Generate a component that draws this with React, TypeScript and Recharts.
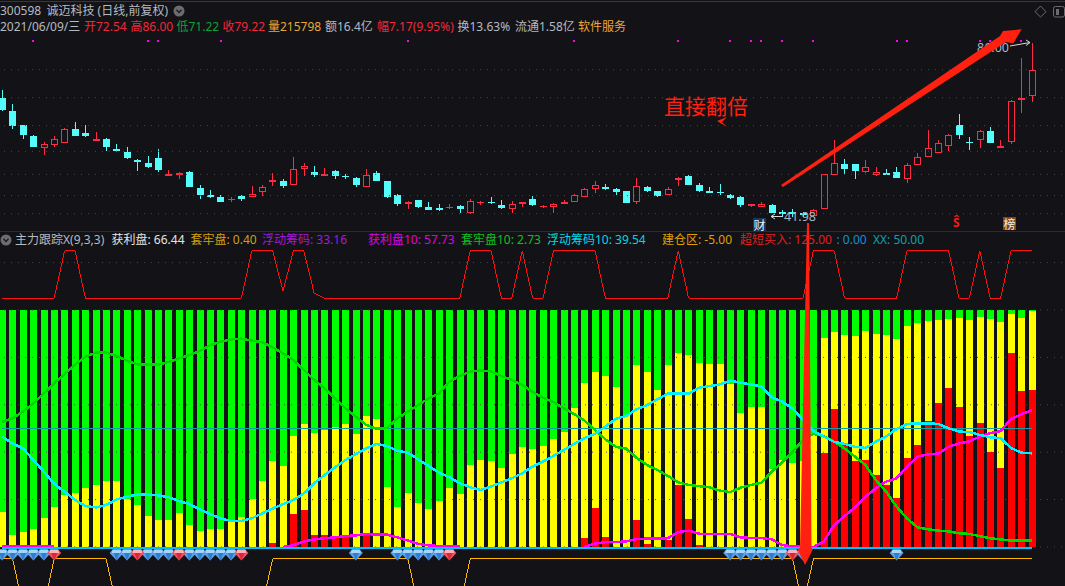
import React from "react";
import { ComposedChart, Bar, Line, Scatter, XAxis, YAxis, ReferenceLine } from "recharts";

// daily candles, oldest first
const opens = [
  72.04, 68.74, 65.19, 62.4, 59.35, 60.11, 60.79, 64.18, 63.16, 61.55, 61.64, 59.18, 58.42, 56.31, 55.63, 56.9, 52.5, 52.67, 53.35, 49.29,
  47.51, 47.0, 46.16, 47.17, 47.09, 48.19, 50.72, 50.98, 49.96, 54.02, 53.26, 52.5, 53.52, 52.42, 51.82, 49.45, 53.01, 50.98, 47.51, 45.14,
  46.16, 44.46, 44.13, 44.38, 44.63, 43.03, 45.39, 45.82, 44.89, 44.04, 45.14, 46.41, 44.55, 44.55, 45.14, 45.65, 46.92, 49.12, 49.54, 48.95,
  48.44, 45.82, 49.45, 48.44, 47.42, 51.49, 52.33, 49.96, 48.52, 48.27, 47.42, 47.0, 44.89, 44.38, 44.89, 43.19, 43.19, 42.86, 42.18, 43.87,
  52.5, 55.38, 55.38, 53.43, 52.67, 53.01, 53.35, 51.65, 55.04, 57.07, 58.08, 60.03, 65.19, 60.96, 61.38, 63.67, 59.35, 61.05, 71.54, 72.54,
];
const highs = [
  74.16, 70.52, 65.27, 62.65, 60.88, 62.48, 64.51, 66.04, 65.19, 63.5, 61.98, 60.45, 59.69, 56.73, 57.41, 59.18, 53.85, 53.26, 53.6, 49.96,
  48.78, 47.42, 46.92, 47.42, 49.79, 50.05, 53.01, 51.57, 57.07, 55.55, 54.87, 54.36, 53.85, 52.92, 52.16, 54.11, 53.52, 51.06, 47.76, 45.9,
  46.16, 45.73, 45.14, 45.14, 44.89, 46.41, 45.99, 47.0, 46.16, 45.99, 45.82, 47.17, 44.89, 45.39, 46.16, 47.85, 49.37, 50.98, 50.22, 49.2,
  48.52, 51.82, 49.71, 48.52, 49.45, 52.16, 52.58, 50.55, 49.54, 50.3, 47.68, 47.17, 45.14, 45.82, 45.14, 43.7, 43.87, 43.28, 43.87, 52.75,
  61.47, 56.65, 55.38, 56.39, 54.53, 54.11, 54.53, 55.55, 58.25, 63.92, 61.47, 62.91, 68.07, 62.31, 64.01, 64.77, 61.47, 71.62, 82.28, 86.0,
];
const lows = [
  68.91, 64.26, 61.72, 59.78, 57.66, 59.78, 60.79, 62.57, 62.23, 61.55, 58.68, 58.42, 56.73, 53.6, 54.36, 53.35, 52.5, 51.57, 49.62, 46.49,
  46.83, 45.82, 45.73, 46.07, 47.09, 47.34, 49.88, 49.37, 49.96, 52.42, 52.16, 52.5, 51.57, 51.65, 49.45, 49.45, 51.15, 46.83, 44.8, 43.96,
  44.29, 43.79, 43.53, 43.87, 43.03, 42.77, 45.06, 45.31, 44.04, 42.94, 44.46, 44.8, 44.29, 43.03, 45.14, 45.65, 46.92, 48.1, 48.69, 47.59,
  45.56, 45.31, 48.36, 47.09, 47.42, 49.88, 50.13, 48.36, 48.1, 47.42, 46.58, 44.55, 44.46, 44.38, 43.03, 42.18, 41.98, 42.01, 42.01, 43.87,
  52.5, 52.84, 51.65, 53.01, 52.42, 52.84, 51.91, 50.64, 55.04, 57.07, 58.08, 58.68, 61.81, 58.93, 59.52, 60.79, 59.35, 60.54, 68.41, 71.22,
];
const closes = [
  69.08, 65.11, 62.82, 59.78, 60.37, 61.64, 64.18, 62.57, 62.48, 61.64, 59.78, 58.76, 56.98, 56.05, 54.7, 53.85, 52.75, 53.01, 49.62, 47.59,
  47.09, 45.82, 46.58, 46.58, 47.85, 49.62, 51.4, 49.88, 54.19, 54.95, 52.67, 52.75, 52.42, 52.25, 49.96, 52.67, 51.15, 47.09, 45.31, 45.82,
  44.55, 43.79, 43.96, 44.55, 44.04, 45.9, 45.82, 45.65, 44.29, 45.14, 45.65, 45.06, 44.8, 45.31, 45.82, 47.42, 48.95, 49.96, 49.12, 48.36,
  45.56, 49.71, 48.61, 47.34, 48.95, 51.74, 50.13, 48.61, 48.36, 48.1, 46.83, 45.06, 45.14, 45.14, 43.03, 43.03, 43.03, 42.69, 43.79, 52.75,
  55.55, 54.11, 53.6, 54.53, 53.26, 52.84, 51.91, 55.04, 57.24, 59.35, 60.62, 62.82, 62.82, 60.79, 63.67, 60.79, 59.86, 71.45, 72.21, 79.22,
];
const priceGrid = [79.32, 72.21, 65.11, 58.59, 52.75, 47.34, 42.77];
const signalDays = [3, 14, 15, 21, 39, 55, 65, 70, 72, 73, 75, 78, 86, 87, 94, 95, 98];

// chip distribution, stacked to 100
const profitChips = [
  0, 0, 0, 0, 0, 0, 0, 0, 0, 0, 0, 0, 0, 0, 0, 0, 0, 0, 0, 0,
  0, 0, 0, 0, 0, 0, 1.7, 0, 13.9, 15.6, 5.1, 5.1, 4.6, 5.1, 0, 5.1, 0, 0, 0, 0,
  0, 0, 0, 0, 0, 0, 0, 0, 0, 0, 0, 0, 0, 0, 0, 0, 3.8, 16.5, 4.2, 0,
  0, 11.4, 1.3, 0, 3.0, 26.2, 11.8, 0.8, 0, 0, 0, 0, 0, 0, 0, 0, 0, 0, 0, 39.7,
  58.2, 43.0, 36.3, 36.7, 30.4, 26.2, 20.7, 37.6, 43.0, 53.2, 60.8, 67.1, 59.1, 46.8, 52.3, 40.1, 33.3, 81.9, 65.8, 66.44,
];
const floatChips = [
  14.8, 5.1, 6.3, 7.6, 12.2, 16.9, 21.9, 22.8, 24.9, 26.2, 27.8, 27.8, 20.3, 17.7, 13.1, 11.4, 11.4, 14.3, 9.3, 6.8,
  7.6, 7.6, 11.0, 12.7, 20.3, 27.8, 34.6, 34.2, 32.9, 36.3, 43.0, 44.3, 46.0, 46.8, 47.7, 50.2, 54.0, 25.3, 16.9, 22.8,
  18.6, 16.0, 19.4, 24.9, 22.4, 34.6, 36.7, 36.3, 33.3, 39.2, 42.2, 41.4, 42.6, 45.6, 48.5, 58.7, 65.4, 57.3, 68.0, 67.5,
  55.7, 65.4, 72.5, 66.2, 73.8, 55.7, 69.2, 76.8, 77.2, 77.2, 68.8, 56.5, 59.1, 59.1, 32.9, 36.7, 35.4, 36.3, 47.3, 48.5,
  32.5, 46.5, 52.7, 54.4, 59.5, 63.3, 67.1, 55.6, 51.5, 42.2, 35.0, 29.1, 37.5, 49.0, 44.7, 56.1, 61.6, 16.4, 30.8, 33.16,
];
const trappedChips = [
  85.2, 94.9, 93.7, 92.4, 87.8, 83.1, 78.1, 77.2, 75.1, 73.8, 72.2, 72.2, 79.7, 82.3, 86.9, 88.6, 88.6, 85.7, 90.7, 93.2,
  92.4, 92.4, 89.0, 87.3, 79.7, 72.2, 63.7, 65.8, 53.2, 48.1, 51.9, 50.6, 49.4, 48.1, 52.3, 44.7, 46.0, 74.7, 83.1, 77.2,
  81.4, 84.0, 80.6, 75.1, 77.6, 65.4, 63.3, 63.7, 66.7, 60.8, 57.8, 58.6, 57.4, 54.4, 51.5, 41.3, 30.8, 26.2, 27.8, 32.5,
  44.3, 23.2, 26.2, 33.8, 23.2, 18.1, 19.0, 22.4, 22.8, 22.8, 31.2, 43.5, 40.9, 40.9, 67.1, 63.3, 64.6, 63.7, 52.7, 11.8,
  9.3, 10.5, 11.0, 8.9, 10.1, 10.5, 12.2, 6.8, 5.5, 4.6, 4.2, 3.8, 3.4, 4.2, 3.0, 3.8, 5.1, 1.7, 3.4, 0.4,
];

// moving lines of the same indicator
const profit10 = [
  0.3, 0.3, 0.3, 0.3, 0.3, 0.3, null, null, null, null, null, null, null, null, null, null, null, null, null, null,
  null, null, null, null, null, null, null, 0, 0.8, 2.3, 3.2, 3.7, 4.1, 4.6, 4.9, 5.5, 5.2, 5.2, 4.1, 2.7,
  1.3, 0.7, 0.4, 0.3, 0.3, null, null, null, null, null, null, null, null, null, null, null, 0, 1.5, 2.0, 2.1,
  2.3, 3.4, 3.5, 3.5, 3.7, 6.3, 6.9, 5.6, 5.5, 5.5, 5.5, 4.1, 3.8, 3.8, 3.2, 0.8, 0.3, 0, 0, 2.3,
  9.3, 13.1, 16.7, 21.2, 24.8, 27.6, 29.0, 33.9, 38.1, 39.1, 39.4, 42.3, 43.7, 44.6, 46.6, 48.0, 48.9, 54.0, 56.0, 57.73,
];
const trapped10 = [
  52.9, 54.3, 57.1, 60.6, 64.8, 69.1, 73.0, 76.9, 80.3, 82.0, 82.0, 80.6, 78.6, 77.1, 76.9, 76.9, 78.1, 79.6, 81.0, 82.7,
  85.2, 86.6, 87.6, 87.9, 87.1, 86.4, 84.2, 81.7, 78.9, 74.7, 70.5, 66.9, 62.7, 58.5, 55.0, 51.5, 49.9, 50.2, 54.3, 57.1,
  59.9, 62.7, 64.8, 69.8, 72.2, 74.0, 74.5, 74.1, 72.2, 70.5, 68.4, 65.5, 63.0, 61.2, 58.5, 56.1, 53.3, 49.4, 45.4, 42.3,
  41.5, 37.6, 34.6, 32.5, 30.0, 27.3, 26.2, 25.7, 25.2, 23.8, 23.2, 25.0, 26.2, 27.1, 31.8, 35.7, 40.2, 45.1, 47.7, 46.8,
  44.4, 41.6, 38.1, 34.6, 28.3, 23.3, 17.0, 12.1, 8.3, 7.5, 6.9, 6.6, 5.8, 5.5, 4.6, 3.7, 3.2, 2.7, 2.7, 2.73,
];
const float10 = [
  46.6, 43.7, 41.6, 36.7, 31.8, 26.6, 23.3, 19.8, 17.3, 16.7, 17.7, 20.1, 21.2, 22.2, 22.2, 21.8, 21.0, 19.5, 18.1, 15.9,
  13.9, 12.0, 11.0, 11.0, 12.1, 14.2, 16.2, 18.1, 19.8, 22.6, 26.9, 30.4, 33.6, 36.7, 39.2, 41.6, 43.5, 42.6, 40.6, 39.8,
  37.0, 34.2, 31.4, 29.4, 26.9, 25.2, 24.1, 25.5, 27.3, 29.0, 31.1, 33.9, 36.0, 38.4, 40.9, 43.5, 45.9, 47.7, 50.8, 54.1,
  55.3, 58.1, 59.9, 62.3, 64.7, 64.7, 64.7, 67.2, 67.9, 68.6, 70.2, 69.3, 68.6, 67.7, 63.2, 61.3, 58.5, 53.6, 48.9, 46.6,
  44.4, 43.5, 42.3, 41.8, 44.4, 46.6, 49.8, 51.9, 52.2, 52.2, 51.9, 50.1, 48.7, 48.5, 47.3, 46.3, 45.9, 41.8, 39.8, 39.54,
];
const shortBuy = [
  105, 105, 105, 105, 105, 105, 125, 125, 105, 105, 105, 105, 105, 105, 105, 105, 105, 105, 105, 105,
  105, 105, 105, 105, 125, 125, 125, 108, 125, 125, 107, 105, 105, 105, 105, 105, 105, 105, 105, 105,
  105, 105, 105, 105, 105, 125, 125, 125, 105, 105, 125, 105, 105, 125, 125, 125, 125, 125, 105, 105,
  105, 105, 105, 105, 105, 125, 105, 105, 105, 105, 105, 105, 105, 105, 105, 105, 105, 105, 125, 125,
  125, 105, 105, 105, 105, 105, 105, 125, 125, 125, 125, 125, 105, 105, 125, 105, 105, 125, 125, 125,
];
const buildZone = [
  -5, -5, -25, -25, -25, -5, -5, -5, -5, -5, -5, -25, -25, -25, -25, -25, -25, -25, -25, -25,
  -25, -25, -25, -25, -25, -25, -5, -5, -5, -5, -5, -5, -5, -5, -5, -5, -5, -5, -5, -5,
  -25, -25, -25, -25, -25, -5, -5, -5, -5, -5, -5, -5, -5, -5, -5, -5, -5, -5, -5, -5,
  -5, -5, -5, -5, -5, -5, -5, -5, -5, -5, -5, -5, -5, -5, -5, -5, -5, -25, -5, -5,
  -5, -5, -5, -5, -5, -5, -5, -5, -5, -5, -5, -5, -5, -5, -5, -5, -5, -5, -5, -5,
];
const blueGemDays = [0, 1, 2, 3, 4, 11, 12, 14, 15, 16, 18, 19, 20, 21, 22, 34, 38, 39, 40, 41, 42, 70, 71, 72, 73, 74, 75, 77, 86];
const redGemDays = [5, 13, 17, 23, 43, 76];
const chipGrid = [120, 100, 80, 60, 40, 20, 0];

const XX_LEVEL = 50;
const ZERO_LEVEL = -0.4;
const GEM_LEVEL = -3.4;
const SIGNAL_PRICE = 86.6;

const BG = "#131216";
const SLOT = 10.4;
const SLOTS = 103; // three empty days after the last bar
const RED = "#ff2a44";
const CYAN = "#54fcfc";

const table = Array.from({ length: SLOTS }, (_, i) => {
  if (i >= opens.length) return { day: i };
  return {
    day: i,
    open: opens[i],
    high: highs[i],
    low: lows[i],
    close: closes[i],
    signal: signalDays.includes(i) ? SIGNAL_PRICE : null,
    profit: profitChips[i],
    float: floatChips[i],
    trapped: trappedChips[i],
    profit10: profit10[i],
    trapped10: trapped10[i],
    float10: float10[i],
    shortBuy: shortBuy[i],
    buildZone: buildZone[i],
    xx: XX_LEVEL,
    zero: ZERO_LEVEL,
    blueGem: blueGemDays.includes(i) ? GEM_LEVEL : null,
    redGem: redGemDays.includes(i) ? GEM_LEVEL : null,
  };
});

function Candle(props: any) {
  const { x, y, width, height, payload } = props;
  if (payload.high == null) return null;
  const k = height / (payload.high - payload.low);
  const yOf = (v: number) => y + (payload.high - v) * k;
  const up = payload.close >= payload.open;
  const color = up ? RED : CYAN;
  const left = Math.round(x);
  const mid = left + 3.5;
  const top = yOf(Math.max(payload.open, payload.close));
  const bottom = yOf(Math.min(payload.open, payload.close));
  const flat = bottom - top < 1.5;
  return (
    <g shapeRendering="crispEdges">
      <line x1={mid} x2={mid} y1={y} y2={y + height} stroke={color} strokeWidth={1} />
      {flat ? (
        <rect x={left} y={top} width={7} height={1.5} fill={color} />
      ) : (
        <rect
          x={up ? left + 0.5 : left}
          y={up ? top + 0.5 : top}
          width={up ? 6 : 7}
          height={up ? bottom - top - 1 : bottom - top}
          fill={up ? BG : color}
          stroke={up ? color : "none"}
          strokeWidth={1}
        />
      )}
    </g>
  );
}

function SignalDot(props: any) {
  const { cx, cy, payload } = props;
  if (payload?.signal == null) return null;
  return <rect x={Math.round(cx) - 1} y={Math.round(cy) - 1} width={2} height={2} fill="#ff00ff" shapeRendering="crispEdges" />;
}

function Gem(props: any) {
  const { cx, cy, top, face, dark, seen } = props;
  if (seen == null) return null;
  return (
    <g>
      <polygon points={`${cx - 7},${cy - 2} ${cx - 4},${cy - 5.5} ${cx + 4},${cy - 5.5} ${cx + 7},${cy - 2} ${cx},${cy + 5.5}`} fill={face} />
      <polygon points={`${cx - 4},${cy - 5.5} ${cx + 4},${cy - 5.5} ${cx + 5},${cy - 2} ${cx - 5},${cy - 2}`} fill={top} />
      <polygon points={`${cx - 3},${cy - 2} ${cx + 3},${cy - 2} ${cx},${cy + 5.5}`} fill={dark} />
    </g>
  );
}

const BlueGem = (props: any) => <Gem {...props} seen={props.payload?.blueGem} top="#a8d4f8" face="#5a9fe8" dark="#2f7fd0" />;
const RedGem = (props: any) => <Gem {...props} seen={props.payload?.redGem} top="#ffb0b8" face="#ee5060" dark="#d82838" />;

const Txt = ({ x, y, c, s = 12, b, children }: any) => (
  <span
    style={{
      position: "absolute",
      left: x,
      top: y,
      color: c,
      fontSize: s,
      fontWeight: b ? 700 : 400,
      lineHeight: "16px",
      whiteSpace: "nowrap",
      fontFamily: '"Noto Sans", "Noto Sans CJK SC", sans-serif',
    }}
  >
    {children}
  </span>
);

const Chevron = ({ x, y }: any) => (
  <svg style={{ position: "absolute", left: x, top: y }} width={12} height={12}>
    <circle cx={6} cy={6} r={5.5} fill="#6c6c70" />
    <path d="M3.5 4.8 L6 7.5 L8.5 4.8" fill="none" stroke="#1c1c1c" strokeWidth={1.3} />
  </svg>
);

export default function App() {
  return (
    <div style={{ position: "absolute", left: 0, top: 0, width: 1065, height: 586, overflow: "hidden", background: BG }}>
      <div style={{ position: "absolute", left: 0, top: 1, width: 1065, height: 1, background: "#38383c" }} />
      <div style={{ position: "absolute", left: 0, top: 231, width: 1065, height: 1, background: "#2c2c30" }} />

      {/* price panel */}
      <div style={{ position: "absolute", left: -3.1, top: 0 }}>
        <ComposedChart width={SLOT * SLOTS} height={228} data={table} margin={{ top: 0, right: 0, bottom: 0, left: 0 }} barSize={7}>
          <XAxis dataKey="day" hide />
          <YAxis hide domain={[39.13, 97]} allowDataOverflow />
          {priceGrid.map((p) => (
            <ReferenceLine key={p} y={p} stroke="#4a4a4e" strokeDasharray="1 6" />
          ))}
          <Bar dataKey={(d: any) => (d.high == null ? null : [d.low, d.high])} shape={<Candle />} isAnimationActive={false} />
          <Scatter dataKey="signal" shape={<SignalDot />} isAnimationActive={false} />
        </ComposedChart>
      </div>

      {/* chip panel */}
      <div style={{ position: "absolute", left: -3.1, top: 236 }}>
        <ComposedChart width={SLOT * SLOTS} height={382} data={table} margin={{ top: 0, right: 0, bottom: 0, left: 0 }} barSize={7}>
          <XAxis dataKey="day" hide />
          <YAxis hide domain={[-29.96, 131.22]} allowDataOverflow />
          {chipGrid.map((v) => (
            <ReferenceLine key={v} y={v} stroke="#4a4a4e" strokeDasharray="1 6" />
          ))}
          <Bar dataKey="profit" stackId="chips" fill="#ff0000" shapeRendering="crispEdges" isAnimationActive={false} />
          <Bar dataKey="float" stackId="chips" fill="#ffff00" shapeRendering="crispEdges" isAnimationActive={false} />
          <Bar dataKey="trapped" stackId="chips" fill="#00ff00" shapeRendering="crispEdges" isAnimationActive={false} />
          <Line dataKey="shortBuy" type="linear" stroke="#ff1010" strokeWidth={1} shapeRendering="crispEdges" dot={false} isAnimationActive={false} />
          <Line dataKey="buildZone" type="linear" stroke="#ffb800" strokeWidth={1} shapeRendering="crispEdges" dot={false} isAnimationActive={false} />
          <Line dataKey="xx" type="linear" stroke="#12a0a8" strokeWidth={1} shapeRendering="crispEdges" dot={false} isAnimationActive={false} />
          <Line dataKey="profit10" type="linear" stroke="#ff00ff" strokeWidth={2.5} shapeRendering="crispEdges" dot={false} isAnimationActive={false} />
          <Line dataKey="trapped10" type="linear" stroke="#00d800" strokeWidth={2.5} shapeRendering="crispEdges" dot={false} isAnimationActive={false} />
          <Line dataKey="float10" type="linear" stroke="#00f0ff" strokeWidth={2.5} shapeRendering="crispEdges" dot={false} isAnimationActive={false} />
          <Line dataKey="zero" type="linear" stroke="#00bfff" strokeWidth={2} shapeRendering="crispEdges" dot={false} isAnimationActive={false} />
          <Scatter dataKey="blueGem" shape={<BlueGem />} isAnimationActive={false} />
          <Scatter dataKey="redGem" shape={<RedGem />} isAnimationActive={false} />
        </ComposedChart>
      </div>

      {/* header rows */}
      <Txt x={0} y={3} c="#b4bac2">300598</Txt>
      <Txt x={46.5} y={3} c="#b4bac2">诚迈科技 (日线,前复权)</Txt>
      <Chevron x={173} y={5} />
      <Txt x={0} y={19} c="#b4bac2">2021/06/09/三</Txt>
      <Txt x={84} y={19} c="#f0283c">开72.54</Txt>
      <Txt x={130.5} y={19} c="#f0283c">高86.00</Txt>
      <Txt x={176.5} y={19} c="#10a040">低71.22</Txt>
      <Txt x={222.5} y={19} c="#f0283c">收79.22</Txt>
      <Txt x={268} y={19} c="#e8a838">量215798</Txt>
      <Txt x={325} y={19} c="#b4bac2">额16.4亿</Txt>
      <Txt x={377} y={19} c="#f0283c">幅7.17(9.95%)</Txt>
      <Txt x={457.5} y={19} c="#b4bac2">换13.63%</Txt>
      <Txt x={515} y={19} c="#b4bac2">流通1.58亿</Txt>
      <Txt x={578} y={19} c="#e8a838">软件服务</Txt>

      <Chevron x={0} y={234} />
      <Txt x={15} y={232} c="#b4bac2">主力跟踪X(9,3,3)</Txt>
      <Txt x={111.5} y={232} c="#e4e4e4">获利盘: 66.44</Txt>
      <Txt x={190.5} y={232} c="#d0a010">套牢盘: 0.40</Txt>
      <Txt x={262} y={232} c="#a818d8">浮动筹码: 33.16</Txt>
      <Txt x={368} y={232} c="#e000e0">获利盘10: 57.73</Txt>
      <Txt x={461} y={232} c="#10c020">套牢盘10: 2.73</Txt>
      <Txt x={547} y={232} c="#00d8e8">浮动筹码10: 39.54</Txt>
      <Txt x={662} y={232} c="#e0a000">建仓区: -5.00</Txt>
      <Txt x={740} y={232} c="#e02020">超短买入: 125.00</Txt>
      <Txt x={836.5} y={232} c="#1090d8">: 0.00</Txt>
      <Txt x={873} y={232} c="#10a0a8">XX: 50.00</Txt>

      {/* price tags and day markers */}
      <Txt x={977} y={40} c="#a8b8c8" s={12.5}>86.00</Txt>
      <Txt x={784} y={209} c="#a8b4c0" s={12.5}>41.98</Txt>
      <span style={{ position: "absolute", left: 753, top: 218, width: 13, height: 13, background: "#16365e", color: "#f0f0f0", fontSize: 12, lineHeight: "13px", textAlign: "center", fontFamily: '"Noto Sans CJK SC"' }}>财</span>
      <span style={{ position: "absolute", left: 1003, top: 217, width: 13, height: 13, background: "#84480e", color: "#f0f0f0", fontSize: 12, lineHeight: "13px", textAlign: "center", fontFamily: '"Noto Sans CJK SC"' }}>榜</span>
      <Txt x={953} y={215} c="#ff1818" b>Ŝ</Txt>
      <span style={{ position: "absolute", left: 664, top: 92, color: "#ff2010", fontSize: 21, lineHeight: "27px", whiteSpace: "nowrap", fontFamily: '"Noto Sans CJK SC"' }}>直接翻倍</span>

      {/* drawn annotations */}
      <svg style={{ position: "absolute", left: 0, top: 0 }} width={1065} height={586}>
        <line x1={1010} y1={46} x2={1030} y2={42.5} stroke="#d8d8d8" strokeWidth={1} />
        <polyline points="1026,40 1030,42.5 1026,45.5" fill="none" stroke="#d8d8d8" strokeWidth={1} />
        <polyline points="775,214 771,216.5 775,219" fill="none" stroke="#d8d8d8" strokeWidth={1} />
        <line x1={771} y1={216.5} x2={783} y2={216.5} stroke="#d8d8d8" strokeWidth={1} />
        <polygon points="717,121 727,117 722,122 727,127" fill="#ff2010" />
        <polygon points="781,185 1000,36 1003,31 1021.7,29.3 1013.3,43.3 1006,42 783,187" fill="#ff2010" />
        <polygon points="807,223 809,223 811.5,548 813,549 805,565 797.5,549 800,548" fill="#ff2010" />
        <polygon points="1040.5,6 1046,11.7 1040.5,17 1035,11.7" fill="none" stroke="#6c6c70" strokeWidth={1} />
        <rect x={1053.5} y={6.5} width={11} height={10.5} rx={2} fill="none" stroke="#6c6c70" strokeWidth={1} />
        <rect x={1056} y={9} width={3} height={6} fill="#6c6c70" />
      </svg>
    </div>
  );
}
